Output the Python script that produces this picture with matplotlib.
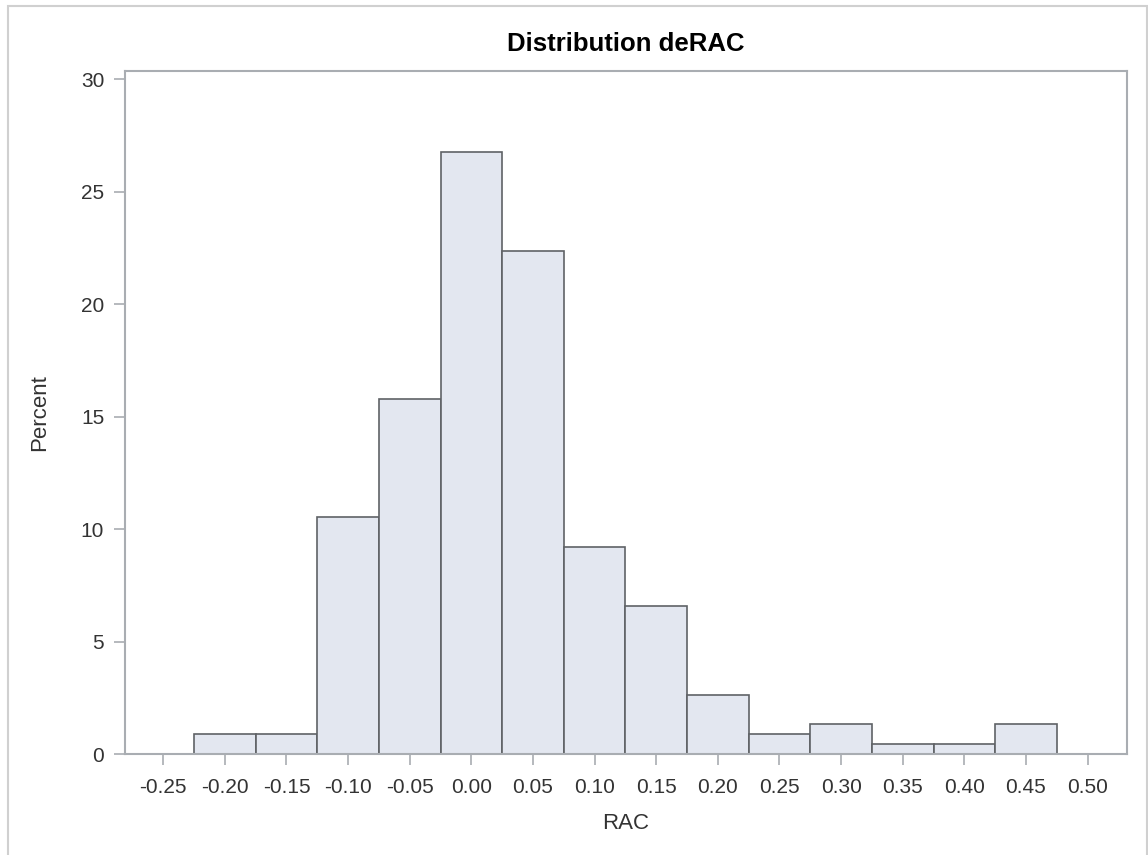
import matplotlib.pyplot as plt
from matplotlib.patches import Rectangle

# histogram bins (midpoints) and percent per bin
bin_mid = [-0.20, -0.15, -0.10, -0.05, 0.00, 0.05, 0.10, 0.15, 0.20, 0.25, 0.30, 0.35, 0.40, 0.45]
percent = [0.88, 0.88, 10.53, 15.79, 26.75, 22.37, 9.21, 6.58, 2.63, 0.88, 1.32, 0.44, 0.44, 1.32]
xticks = [-0.25, -0.20, -0.15, -0.10, -0.05, 0.00, 0.05, 0.10, 0.15, 0.20, 0.25, 0.30, 0.35, 0.40, 0.45, 0.50]
yticks = [0, 5, 10, 15, 20, 25, 30]

plt.rcParams['font.family'] = ['Liberation Sans', 'DejaVu Sans']

frame_col = '#a9adb2'
text_col = '#333333'

fig = plt.figure(figsize=(11.48, 8.55), dpi=100)
ax = fig.add_axes([125/1148, 1 - 754/855, (1127-125)/1148, (754-70.7)/855])

ax.bar(bin_mid, percent, width=0.05, color='#e3e7f0', edgecolor='#5f6266', linewidth=1.2, zorder=2)

ax.set_xlim(-0.281, 0.532)
ax.set_ylim(0, 30.37)
ax.set_xticks(xticks)
ax.set_xticklabels([f'{v:.2f}' for v in xticks])
ax.set_yticks(yticks)

for s in ax.spines.values():
    s.set_color(frame_col)
    s.set_linewidth(1.5)
ax.tick_params(axis='both', colors=frame_col, length=8, width=1.2, labelsize=15, labelcolor=text_col)
ax.tick_params(axis='x', pad=9)
ax.tick_params(axis='y', pad=7)

ax.set_xlabel('RAC', fontsize=16, color=text_col, labelpad=12)
ax.set_ylabel('Percent', fontsize=16, color=text_col, labelpad=22)
ax.set_title('Distribution deRAC', fontsize=18.5, fontweight='bold', color='black', pad=14)

# light outer border of the graph
fig.patches.append(Rectangle((8/1148, -0.01), (1147-8)/1148, 1 - 6/855 + 0.01,
                             transform=fig.transFigure, fill=False,
                             edgecolor='#d0d0d0', linewidth=1.5))

fig.savefig('out.png', dpi=100)
